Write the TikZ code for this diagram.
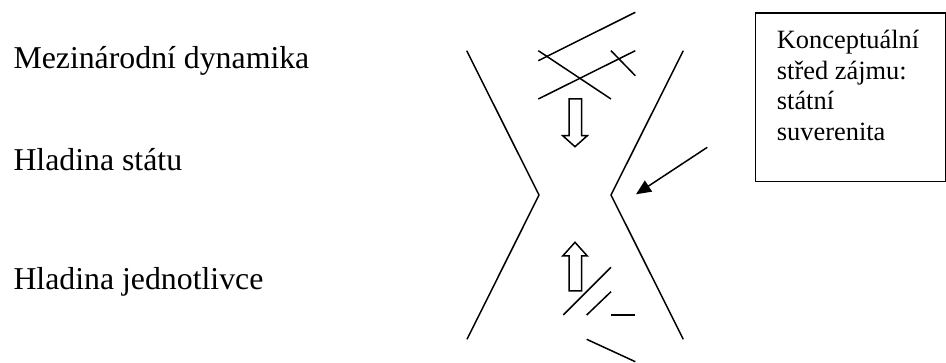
\documentclass[tikz,border=0pt]{standalone}
\usepackage{fontspec}
\setmainfont{Liberation Serif}
\usetikzlibrary{arrows.meta}
\tikzset{
  lbl/.style={anchor=base west, inner sep=0pt, font=\fontsize{31.8}{36}\selectfont},
  boxtxt/.style={anchor=base west, inner sep=0pt, align=left, font=\fontsize{26.4}{30.8}\selectfont},
  ln/.style={line width=1.5pt, line cap=butt},
  blockarrow/.style={line width=1.5pt, fill=white, line join=miter},
}
\begin{document}
\begin{tikzpicture}[x=1pt,y=-1pt]
\useasboundingbox (0,0) rectangle (946,363);
% level labels
\node[lbl] (intl) at (13.3,68.3) {Mezinárodní dynamika};
\node[lbl] (state) at (13.3,170.5) {Hladina státu};
\node[lbl] (indiv) at (13.3,290) {Hladina jednotlivce};
% concept box
\node[draw, line width=1.5pt, anchor=north west, minimum width=190.6pt, minimum height=168.7pt, inner sep=0pt] (box) at (754.7,12.3) {};
\node[boxtxt] (boxtext) at (776.7,140.7) {Konceptuální\\střed zájmu:\\státní\\suverenita};
% hourglass
\draw[ln] (466.7,50.7) -- (539,195) -- (467,339.3);
\draw[ln] (683.3,50.7) -- (611,195) -- (683.3,339.3);
% top tangle
\draw[ln] (538.3,60.7) -- (635.3,12.3);
\draw[ln] (538.3,99) -- (635.3,50.7);
\draw[ln] (538.3,50.7) -- (611,99);
\draw[ln] (611,50.7) -- (635.3,75.7);
% bottom strokes
\draw[ln] (563.3,315) -- (611,267.3);
\draw[ln] (586.7,315) -- (611,291.7);
\draw[ln] (611,315) -- (635.3,315);
\draw[ln] (586.7,339.3) -- (635.3,361.7);
% block arrows
\draw[blockarrow] (569,99) -- (581.7,99) -- (581.7,135.7) -- (587.3,135.7) -- (575,146.7) -- (562.7,135.7) -- (569,135.7) -- cycle;
\draw[blockarrow] (569,291) -- (581.7,291) -- (581.7,256) -- (587.3,256) -- (575,242.3) -- (562.7,256) -- (569,256) -- cycle;
% pointer arrow
\coordinate (pstart) at (707.3,147.3);
\coordinate (ptip) at (636,194.3);
\draw[line width=1.5pt, -{Triangle[length=15pt,width=13pt]}] (pstart) -- (ptip);
\end{tikzpicture}
\end{document}
